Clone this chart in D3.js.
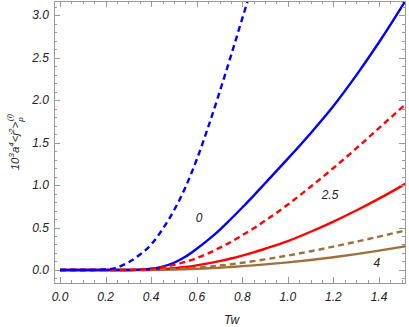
<!DOCTYPE html>
<html>
<head>
<meta charset="utf-8">
<script src="https://cdn.jsdelivr.net/npm/d3@7"></script>
<style>
  body { margin: 0; background: #fff; }
  text { font-family: "Liberation Sans", Arial, sans-serif; font-style: italic; fill: #222; }
</style>
</head>
<body>
<svg id="chart" width="409" height="327"></svg>
<script>
// Tw grid and curve values
var tw = [0, 0.1, 0.2, 0.25, 0.3, 0.35, 0.4, 0.45, 0.5, 0.55, 0.6, 0.65, 0.7, 0.75, 0.8, 0.85, 0.9, 1.0, 1.1, 1.2, 1.3, 1.4, 1.5, 1.53]
var blueDash = [0, 0, 0.005, 0.03, 0.09, 0.18, 0.3, 0.48, 0.7, 0.97, 1.3, 1.68, 2.09, 2.52, 2.96, 3.4, 3.85, 4.8, 5.8, 6.8, 7.8, 8.8, 9.8, 10.1]
var blueSolid = [0, 0, 0, 0, 0, 0.004, 0.015, 0.04, 0.085, 0.155, 0.25, 0.355, 0.47, 0.6, 0.735, 0.875, 1.02, 1.31, 1.61, 1.93, 2.29, 2.68, 3.1, 3.23]
var redDash = [0, 0, 0, 0, 0, 0.003, 0.015, 0.033, 0.06, 0.095, 0.14, 0.195, 0.26, 0.33, 0.41, 0.49, 0.58, 0.77, 0.98, 1.2, 1.43, 1.67, 1.91, 1.98]
var redSolid = [0, 0, 0, 0, 0, 0.001, 0.005, 0.012, 0.022, 0.036, 0.055, 0.078, 0.105, 0.135, 0.17, 0.208, 0.25, 0.34, 0.45, 0.57, 0.7, 0.84, 0.99, 1.04]
var brownDash = [0, 0, 0, 0, 0, 0, 0.002, 0.005, 0.01, 0.017, 0.027, 0.038, 0.052, 0.067, 0.085, 0.104, 0.125, 0.17, 0.22, 0.275, 0.333, 0.393, 0.455, 0.473]
var brownSolid = [0, 0, 0, 0, 0, 0, 0, 0.001, 0.004, 0.008, 0.013, 0.02, 0.027, 0.036, 0.045, 0.055, 0.066, 0.09, 0.118, 0.15, 0.187, 0.228, 0.272, 0.286]

var xTicks = [0, 0.2, 0.4, 0.6, 0.8, 1.0, 1.2, 1.4]
var yTicks = [0, 0.5, 1.0, 1.5, 2.0, 2.5, 3.0]
var curveLabels = [
    { txt: '0', x: 0.61, y: 0.61 },
    { txt: '2.5', x: 1.185, y: 0.88 },
    { txt: '4', x: 1.39, y: 0.08 }
]

var box = { left: 54, right: 405, top: 1, bottom: 283 }
var x = d3.scaleLinear().domain([-0.0263, 1.514]).range([box.left, box.right])
var y = d3.scaleLinear().domain([-0.153, 3.165]).range([box.bottom, box.top])

var svg = d3.select('#chart')

svg.append('defs').append('clipPath').attr('id', 'clip')
    .append('rect')
    .attr('x', box.left).attr('y', box.top)
    .attr('width', box.right - box.left).attr('height', box.bottom - box.top)

var series = [
    { v: brownSolid, color: '#a0703c', dash: null },
    { v: redSolid, color: '#ff0000', dash: null },
    { v: blueSolid, color: '#0000ff', dash: null },
    { v: brownDash, color: '#a0703c', dash: '6,4' },
    { v: redDash, color: '#ff0000', dash: '6,4' },
    { v: blueDash, color: '#0000ff', dash: '6,4' }
]

var line = d3.line()
    .x(function (d) { return x(d[0]) })
    .y(function (d) { return y(d[1]) })
    .curve(d3.curveMonotoneX)

var plot = svg.append('g').attr('clip-path', 'url(#clip)')
series.forEach(s => {
    plot.append('path')
        .datum(tw.map((t, i) => [t, s.v[i]]))
        .attr('d', line)
        .attr('fill', 'none')
        .attr('stroke', s.color)
        .attr('stroke-width', 2.4)
        .attr('stroke-dasharray', s.dash)
})

// frame with inward ticks on all four sides
var frameCol = '#999'
var xMinor = d3.range(0, 1.51, 0.05)
var yMinor = d3.range(-0.1, 3.16, 0.1)

function ticks(g, vals, len, horiz) {
    vals.forEach(v => {
        if (horiz) {
            var px = Math.round(x(v)) + 0.5
            g.append('line').attr('x1', px).attr('x2', px).attr('y1', box.bottom).attr('y2', box.bottom - len)
            g.append('line').attr('x1', px).attr('x2', px).attr('y1', box.top).attr('y2', box.top + len)
        } else {
            var py = Math.round(y(v)) + 0.5
            g.append('line').attr('y1', py).attr('y2', py).attr('x1', box.left).attr('x2', box.left + len)
            g.append('line').attr('y1', py).attr('y2', py).attr('x1', box.right).attr('x2', box.right - len)
        }
    })
}
var tg = svg.append('g').attr('stroke', frameCol).attr('stroke-width', 1)
ticks(tg, xMinor, 3, true)
ticks(tg, yMinor, 3, false)
ticks(tg, xTicks, 6, true)
ticks(tg, yTicks, 6, false)

svg.append('rect')
    .attr('x', box.left + 0.5).attr('y', box.top + 0.5)
    .attr('width', box.right - box.left).attr('height', box.bottom - box.top)
    .attr('fill', 'none').attr('stroke', frameCol)

svg.selectAll('.xl').data(xTicks).enter().append('text')
    .attr('x', d => x(d)).attr('y', 301)
    .attr('text-anchor', 'middle').attr('font-size', 12)
    .text(d => d3.format('.1f')(d))

svg.selectAll('.yl').data(yTicks).enter().append('text')
    .attr('x', 49).attr('y', d => y(d) + 4)
    .attr('text-anchor', 'end').attr('font-size', 12)
    .text(d => d3.format('.1f')(d))

svg.selectAll('.cl').data(curveLabels).enter().append('text')
    .attr('x', d => x(d.x)).attr('y', d => y(d.y) + 4)
    .attr('text-anchor', 'middle').attr('font-size', 12)
    .text(d => d.txt)

svg.append('text')
    .attr('x', (box.left + box.right) / 2 + 2).attr('y', 324)
    .attr('text-anchor', 'middle').attr('font-size', 12)
    .text('Tw')

// y axis title: 10^3 a^4 <j^2>_p^(I), p and (I) stacked
var yt = svg.append('text')
    .attr('transform', 'translate(19,142) rotate(-90)')
    .attr('text-anchor', 'middle').attr('font-size', 11.5)
var parts = [
    ['10', 0, 0, 11.5], ['3', -5, 0, 8], ['a', 5, 0, 11.5], ['4', -5, 0, 8],
    ['<j', 5, 0, 11.5], ['2', -5, 0, 8], ['>', 5, 0, 11.5], ['p', 4, 0, 8], ['(I)', -11, -4, 8]
]
parts.forEach(p => {
    yt.append('tspan').attr('dy', p[1]).attr('dx', p[2])
        .attr('font-size', p[3])
        .text(p[0])
})
</script>
</body>
</html>
